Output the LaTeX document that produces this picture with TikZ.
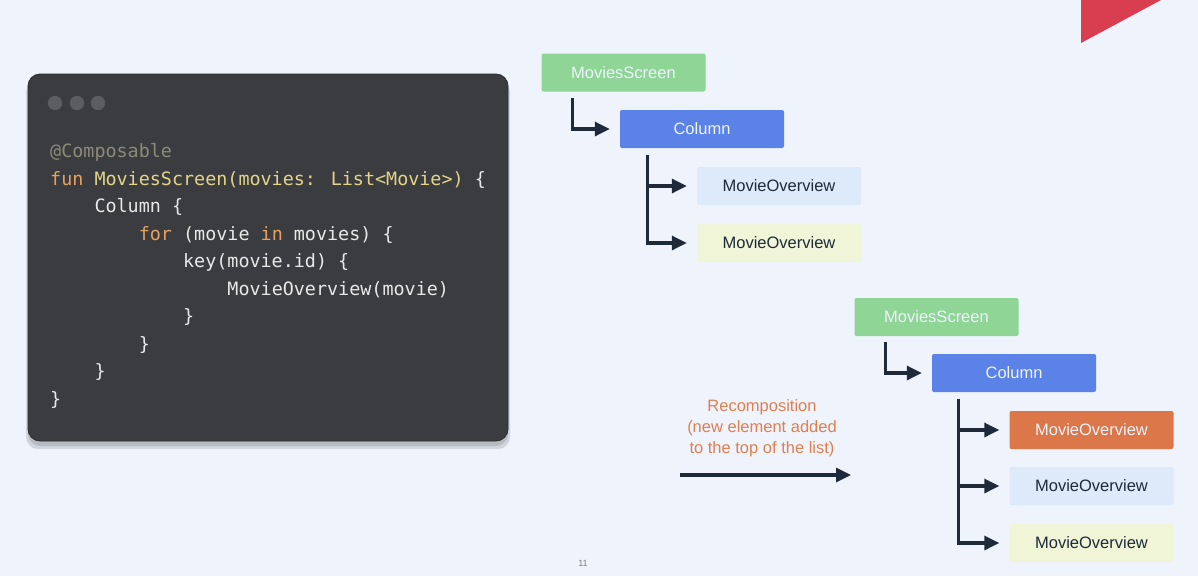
\documentclass[tikz,border=0pt]{standalone}
\usepackage{fontspec}
\setmainfont{Liberation Sans}
\newfontfamily\codefont{DejaVu Sans Mono}
\usetikzlibrary{arrows.meta,positioning,calc}
\definecolor{fondo}{HTML}{EFF3FC}
\definecolor{rojo}{HTML}{D93D50}
\definecolor{pantalla}{HTML}{3B3C3F}
\definecolor{borde}{HTML}{2A2B2D}
\definecolor{punto}{HTML}{5C5D60}
\definecolor{codegris}{HTML}{8C8A78}
\definecolor{codenaranja}{HTML}{E6A160}
\definecolor{codeamarillo}{HTML}{E3D48A}
\definecolor{codeblanco}{HTML}{E8E8E8}
\definecolor{verde}{HTML}{8ED596}
\definecolor{azul}{HTML}{5B82E6}
\definecolor{celeste}{HTML}{DDEAFA}
\definecolor{crema}{HTML}{EFF5D6}
\definecolor{naranja}{HTML}{DC7749}
\definecolor{tinta}{HTML}{1E2A3A}
\definecolor{rotulo}{HTML}{E07F50}
\newcommand\tab{\phantom{xxxx}}
\tikzset{
  caja/.style={minimum width=164pt, minimum height=38pt, inner sep=0pt, rounded corners=2pt,
    font=\fontsize{16.5}{20}\selectfont},
  clara/.style={caja, text=fondo},
  oscura/.style={caja, text=tinta},
  enlace/.style={draw=tinta, line width=3.2pt, -{Triangle[length=15pt,width=14pt]},
    shorten <=6pt, shorten >=10pt}
}
\begin{document}
\begin{tikzpicture}[x=1pt,y=-1pt]
\fill[fondo] (0,0) rectangle (1198,576);
\useasboundingbox (0,0) rectangle (1198,576);
\fill[rojo] (1081,0) -- (1081,43) -- (1161,0) -- cycle;
% ventana de codigo
\fill[black, opacity=0.12, rounded corners=12pt] (26,80) rectangle (510,449);
\fill[black, opacity=0.12, rounded corners=12pt] (28,78) rectangle (508,446);
\filldraw[fill=pantalla, draw=borde, line width=0.8pt, rounded corners=12pt] (28,74) rectangle (508,441);
\foreach \i/\x in {1/55,2/77,3/98}
  \fill[punto] (\x,103) circle (7.2pt) node (dot\i) {};
\node[anchor=base west, align=left, inner sep=0pt, text=codeblanco,
  font=\codefont\fontsize{18.4}{27.5}\selectfont] (code) at (50,405) {%
\textcolor{codegris}{@Composable}\\
\textcolor{codenaranja}{fun} \textcolor{codeamarillo}{MoviesScreen(movies: List<Movie>)} \{\\
\tab Column \{\\
\tab\tab\textcolor{codenaranja}{for} (movie \textcolor{codenaranja}{in} movies) \{\\
\tab\tab\tab key(movie.id) \{\\
\tab\tab\tab\tab MovieOverview(movie)\\
\tab\tab\tab\}\\
\tab\tab\}\\
\tab\}\\
\}};
% arbol antes
\node[clara, fill=verde] (ms1) at (623.5,72.5) {MoviesScreen};
\node[clara, fill=azul] (col1) at (702,129) {Column};
\node[oscura, fill=celeste] (mo1a) at (779,186) {MovieOverview};
\node[oscura, fill=crema] (mo1b) at (779,243) {MovieOverview};
\draw[enlace] ([xshift=31pt]ms1.south west) |- (col1);
\foreach \m in {mo1a,mo1b}
  \draw[enlace, shorten <=7pt] ([xshift=28pt]col1.south west) |- (\m);
% arbol despues
\node[clara, fill=verde] (ms2) at (936.5,317) {MoviesScreen};
\node[clara, fill=azul] (col2) at (1014,373) {Column};
\node[clara, fill=naranja] (mo2a) at (1091.5,430) {MovieOverview};
\node[oscura, fill=celeste] (mo2b) at (1091.5,486) {MovieOverview};
\node[oscura, fill=crema] (mo2c) at (1091.5,543) {MovieOverview};
\draw[enlace] ([xshift=31pt]ms2.south west) |- (col2);
\foreach \m in {mo2a,mo2b,mo2c}
  \draw[enlace, shorten <=7pt] ([xshift=27pt]col2.south west) |- (\m);
% recomposicion
\coordinate (r0) at (680,475);
\coordinate (r1) at (851,475);
\draw[enlace, shorten <=0pt, shorten >=0pt] (r0) -- (r1);
\node[align=center, text=rotulo, font=\fontsize{16.5}{21}\selectfont, anchor=south]
  (rec) at (762,460) {Recomposition\\(new element added\\to the top of the list)};
\node[text=gray, font=\fontsize{9}{10}\selectfont] (pag) at (583,563) {11};
\end{tikzpicture}
\end{document}
